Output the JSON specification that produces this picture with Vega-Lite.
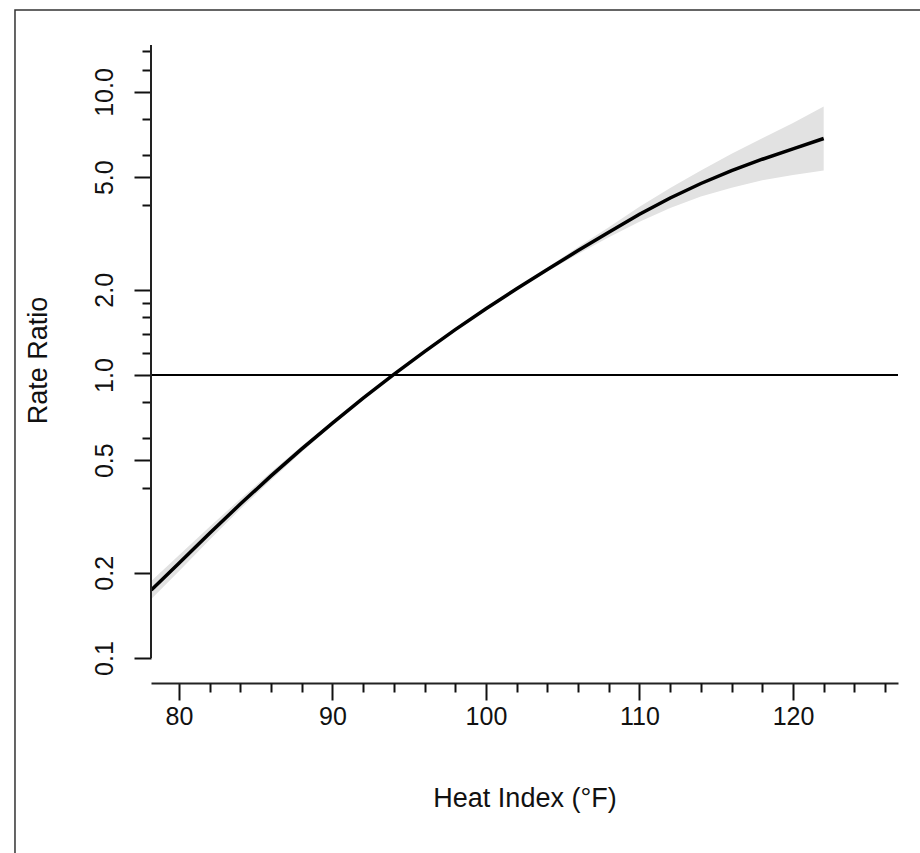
{
  "$schema": "https://vega.github.io/schema/vega-lite/v6.json",
  "width": 747,
  "height": 638,
  "autosize": {"type": "none"},
  "padding": {"left": 151, "top": 45, "right": 22, "bottom": 170},
  "background": "white",
  "config": {
    "view": {"stroke": null},
    "font": "Liberation Sans",
    "axis": {
      "grid": false,
      "labelFont": "Liberation Sans",
      "titleFont": "Liberation Sans",
      "labelColor": "#111",
      "titleColor": "#111",
      "titleFontWeight": "normal",
      "tickColor": "#111",
      "domainColor": "#222"
    }
  },
  "datasets": {
    "curve": [
      {"heat": 78.2, "rr": 0.1739, "lo": 0.1616, "hi": 0.1871},
      {"heat": 80, "rr": 0.216, "lo": 0.2024, "hi": 0.2305},
      {"heat": 82, "rr": 0.276, "lo": 0.2618, "hi": 0.291},
      {"heat": 84, "rr": 0.35, "lo": 0.3361, "hi": 0.3645},
      {"heat": 86, "rr": 0.44, "lo": 0.4259, "hi": 0.4546},
      {"heat": 88, "rr": 0.548, "lo": 0.5348, "hi": 0.5615},
      {"heat": 90, "rr": 0.676, "lo": 0.664, "hi": 0.6882},
      {"heat": 92, "rr": 0.828, "lo": 0.8173, "hi": 0.8388},
      {"heat": 94, "rr": 1.005, "lo": 0.9952, "hi": 1.0148},
      {"heat": 96, "rr": 1.21, "lo": 1.2002, "hi": 1.2199},
      {"heat": 98, "rr": 1.446, "lo": 1.4342, "hi": 1.4579},
      {"heat": 100, "rr": 1.715, "lo": 1.7011, "hi": 1.7291},
      {"heat": 102, "rr": 2.017, "lo": 1.9974, "hi": 2.0368},
      {"heat": 104, "rr": 2.361, "lo": 2.3229, "hi": 2.3997},
      {"heat": 106, "rr": 2.752, "lo": 2.6747, "hi": 2.8315},
      {"heat": 108, "rr": 3.196, "lo": 3.0687, "hi": 3.3286},
      {"heat": 110, "rr": 3.697, "lo": 3.4782, "hi": 3.9295},
      {"heat": 112, "rr": 4.222, "lo": 3.892, "hi": 4.58},
      {"heat": 114, "rr": 4.75, "lo": 4.2731, "hi": 5.2801},
      {"heat": 116, "rr": 5.272, "lo": 4.5911, "hi": 6.0538},
      {"heat": 118, "rr": 5.788, "lo": 4.879, "hi": 6.8663},
      {"heat": 120, "rr": 6.293, "lo": 5.0931, "hi": 7.7756},
      {"heat": 122, "rr": 6.85, "lo": 5.279, "hi": 8.8886}
    ]
  },
  "layer": [
    {
      "data": {"values": [{}]},
      "mark": {"type": "rect", "fill": "transparent", "stroke": "#333", "strokeWidth": 1.5, "clip": false},
      "encoding": {
        "x": {"datum": 69.32, "type": "quantitative", "scale": {"domain": [78.18, 126.84], "nice": false, "zero": false}, "axis": null},
        "x2": {"datum": 129.25},
        "y": {"datum": 19.49, "type": "quantitative", "scale": {"type": "log", "domain": [0.0816, 14.66], "nice": false}, "axis": null},
        "y2": {"datum": 0.01782}
      }
    },
    {
      "data": {"name": "curve"},
      "mark": {"type": "area", "color": "#e2e2e2"},
      "encoding": {
        "x": {
          "field": "heat", "type": "quantitative",
          "scale": {"domain": [78.18, 126.84], "nice": false, "zero": false},
          "axis": {
            "orient": "bottom",
            "values": [80, 90, 100, 110, 120],
            "tickSize": 17, "tickWidth": 2, "domainWidth": 2,
            "labelFontSize": 25, "labelPadding": 4, "labelFlush": false, "labelOverlap": false,
            "title": "Heat Index (°F)", "titleFontSize": 27,
            "titleX": 373.5, "titleY": 115, "titleBaseline": "middle", "titleAlign": "center"
          }
        },
        "y": {
          "field": "lo", "type": "quantitative",
          "scale": {"type": "log", "domain": [0.0816, 14.66], "nice": false},
          "axis": {
            "orient": "left",
            "values": [0.1, 0.2, 0.5, 1, 2, 5, 10],
            "format": ".1f",
            "tickSize": 17, "tickWidth": 2, "domain": false,
            "labelAngle": 270, "labelAlign": "center", "labelBaseline": "alphabetic",
            "labelPadding": 22, "labelFontSize": 25, "labelOverlap": false, "labelFlush": false,
            "title": "Rate Ratio", "titleFontSize": 27, "titleAngle": 270,
            "titleX": -113, "titleY": 315, "titleBaseline": "middle", "titleAlign": "center"
          }
        },
        "y2": {"field": "hi"}
      }
    },
    {
      "data": {"values": [{}]},
      "mark": {"type": "rule", "color": "black", "strokeWidth": 2},
      "encoding": {
        "y": {"datum": 1, "type": "quantitative", "scale": {"type": "log", "domain": [0.0816, 14.66], "nice": false}, "axis": null}
      }
    },
    {
      "data": {"name": "curve"},
      "mark": {"type": "line", "color": "black", "strokeWidth": 3.5},
      "encoding": {
        "x": {
          "field": "heat", "type": "quantitative",
          "scale": {"domain": [78.18, 126.84], "nice": false, "zero": false},
          "axis": {
            "orient": "bottom",
            "values": [82, 84, 86, 88, 92, 94, 96, 98, 102, 104, 106, 108, 112, 114, 116, 118, 122, 124, 126],
            "tickSize": 9, "tickWidth": 2, "labels": false, "domain": false, "title": null
          }
        },
        "y": {
          "field": "rr", "type": "quantitative",
          "scale": {"type": "log", "domain": [0.0816, 14.66], "nice": false},
          "axis": {
            "orient": "left",
            "values": [0.4, 0.6, 0.8, 1.2, 1.4, 1.6, 1.8, 4, 6, 8, 12, 14],
            "tickSize": 9, "tickWidth": 2, "labels": false, "domain": false, "title": null
          }
        }
      }
    },
    {
      "data": {"values": [{}]},
      "mark": {"type": "rule", "color": "#222", "strokeWidth": 2},
      "encoding": {
        "x": {"datum": 78.18, "type": "quantitative", "scale": {"domain": [78.18, 126.84], "nice": false, "zero": false}, "axis": null},
        "y": {"datum": 0.1, "type": "quantitative", "scale": {"type": "log", "domain": [0.0816, 14.66], "nice": false}, "axis": null},
        "y2": {"datum": 14.66}
      }
    }
  ],
  "resolve": {"axis": {"x": "independent", "y": "independent"}}
}
